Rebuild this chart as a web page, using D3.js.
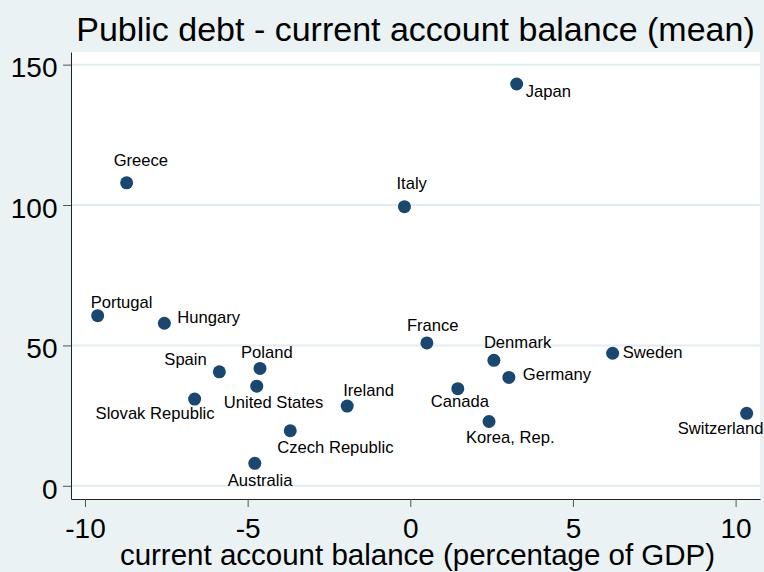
<!DOCTYPE html>
<html>
<head>
<meta charset="utf-8">
<script src="https://cdn.jsdelivr.net/npm/d3@7"></script>
<style>
  body { margin: 0; background: #eaf2f3; }
  svg { display: block; font-family: "Liberation Sans", Arial, sans-serif; }
  .axis .domain { stroke: #222; stroke-width: 1; }
  .axis .tick line { stroke: #555; stroke-width: 1; }
  .axis .tick text { fill: #000; font-size: 28px; }
</style>
</head>
<body>
<svg id="chart" width="764" height="572"></svg>
<script>
"use strict";

// Country means.
var countries = ["Japan", "Greece", "Italy", "Portugal", "Hungary", "France",
  "Sweden", "Denmark", "Poland", "Spain", "Germany", "United States", "Canada",
  "Slovak Republic", "Ireland", "Korea, Rep.", "Switzerland", "Czech Republic",
  "Australia"];
var currentAccount = [3.27, -8.72, -0.18, -9.61, -7.56, 0.51,
  6.22, 2.57, -4.62, -5.87, 3.03, -4.72, 1.46,
  -6.63, -1.94, 2.42, 10.34, -3.69,
  -4.78];
var publicDebt = [143.1, 107.9, 99.4, 60.6, 57.9, 50.9,
  47.2, 44.7, 41.8, 40.6, 38.6, 35.5, 34.6,
  30.9, 28.4, 22.9, 25.8, 19.6,
  8.0];

var xTicks = [-10, -5, 0, 5, 10];
var yTicks = [0, 50, 100, 150];

var titleText = "Public debt - current account balance (mean)";
var xTitle = "current account balance (percentage of GDP)";

// where each marker label sits relative to its dot (start of text, baseline)
var labelOffset = {
  "Japan": [9, 13], "Greece": [-13, -17], "Italy": [-8, -18],
  "Portugal": [-7, -8], "Hungary": [13, 0], "France": [-20, -12],
  "Sweden": [10, 5], "Denmark": [-10, -12], "Poland": [-19, -10],
  "Spain": [-55, -7], "Germany": [14, 3], "United States": [-33, 22],
  "Canada": [-27, 18], "Slovak Republic": [-99, 20], "Ireland": [-4, -10],
  "Korea, Rep.": [-23, 21], "Switzerland": [-69, 21],
  "Czech Republic": [-13, 22], "Australia": [-27, 23]
};

var plot = { left: 71, right: 760, top: 52, bottom: 499 };

var svg = d3.select("#chart");

var x = d3.scaleLinear()
  .domain([-10.43, 10.75])
  .range([plot.left, plot.right]);
var y = d3.scaleLinear()
  .domain([-4.7, 154.5])
  .range([plot.bottom, plot.top]);

// background + white plot region
svg.append("rect").attr("width", 764).attr("height", 572).attr("fill", "#eaf2f3");
svg.append("rect")
  .attr("x", plot.left).attr("y", plot.top)
  .attr("width", plot.right - plot.left).attr("height", plot.bottom - plot.top)
  .attr("fill", "#fff");

// horizontal grid lines
svg.append("g").selectAll("line")
  .data(yTicks)
  .enter().append("line")
    .attr("x1", plot.left).attr("x2", plot.right)
    .attr("y1", function(d) { return y(d); })
    .attr("y2", function(d) { return y(d); })
    .attr("stroke", "#e3ecef")
    .attr("stroke-width", 2);

// axes (plain hyphen for negatives, like the original)
var fmt = function(d) { return String(d); };

var yAxis = svg.append("g")
  .attr("class", "axis")
  .attr("transform", "translate(" + plot.left + ",0)")
  .call(d3.axisLeft(y).tickValues(yTicks).tickFormat(fmt)
    .tickSize(8).tickSizeOuter(0).tickPadding(5.5));
yAxis.selectAll(".tick text").attr("dy", "0.44em");

svg.append("g")
  .attr("class", "axis")
  .attr("transform", "translate(0," + plot.bottom + ")")
  .call(d3.axisBottom(x).tickValues(xTicks).tickFormat(fmt)
    .tickSize(8).tickSizeOuter(0).tickPadding(11));

// points
var pts = countries.map(function(c, i) {
  return { name: c, cx: currentAccount[i], debt: publicDebt[i] };
});

svg.append("g").selectAll("circle")
  .data(pts)
  .enter().append("circle")
    .attr("cx", function(d) { return x(d.cx); })
    .attr("cy", function(d) { return y(d.debt); })
    .attr("r", 6.5)
    .attr("fill", "#1a476f");

svg.append("g").selectAll("text")
  .data(pts)
  .enter().append("text")
    .attr("x", function(d) { return x(d.cx) + labelOffset[d.name][0]; })
    .attr("y", function(d) { return y(d.debt) + labelOffset[d.name][1]; })
    .attr("font-size", 16.6)
    .attr("fill", "#000")
    .text(function(d) { return d.name; });

// titles
svg.append("text")
  .attr("x", (plot.left + plot.right) / 2)
  .attr("y", 41)
  .attr("text-anchor", "middle")
  .attr("font-size", 34)
  .text(titleText);

svg.append("text")
  .attr("x", (plot.left + plot.right) / 2 + 2)
  .attr("y", 565)
  .attr("text-anchor", "middle")
  .attr("font-size", 29.5)
  .text(xTitle);
</script>
</body>
</html>
